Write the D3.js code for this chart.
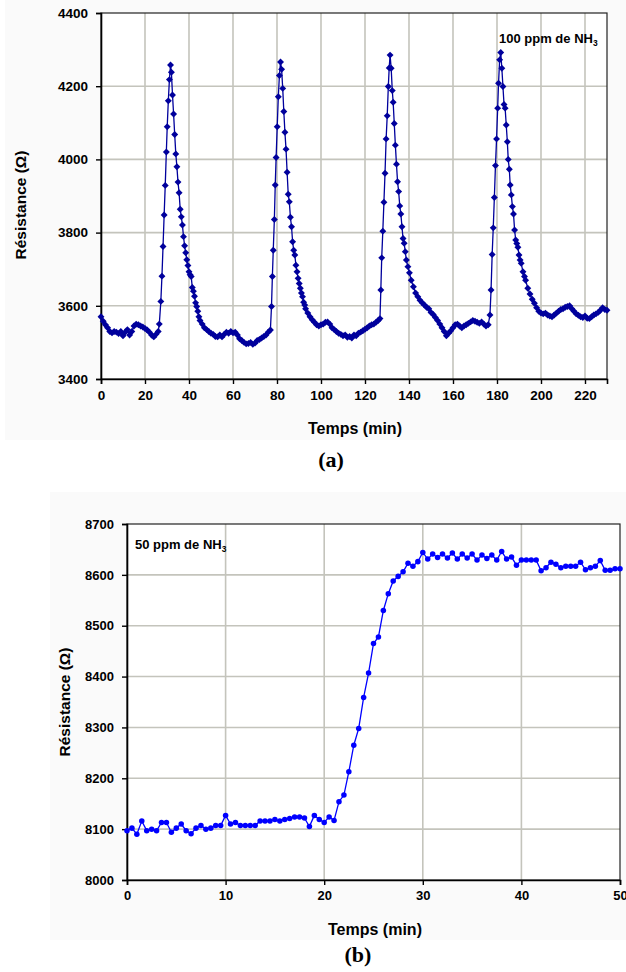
<!DOCTYPE html>
<html><head><meta charset="utf-8">
<script src="https://cdn.jsdelivr.net/npm/d3@7"></script>
<style>
body{margin:0;background:#fff;}
svg{display:block;font-family:"Liberation Sans",Arial,sans-serif;}
</style></head><body>
<svg id="c" width="626" height="972"></svg>
<script>
// ---- Data (a): 100 ppm NH3, [time (min), resistance (ohm)]
const seriesA = [
[0,3570],[1,3558],[2,3548],[3,3540],[4,3530],[5,3526],[6,3530],[7,3528],[8,3524],[9,3530],
[10,3518],[11,3528],[12,3535],[13,3520],[14,3530],[15,3545],[16,3550],[17,3548],[18,3545],[19,3542],
[20,3538],[21,3534],[22,3528],[23,3520],[24,3515],[25,3522],[26,3530],[26.5,3550],
[27.2,3612],[27.7,3681],[28.2,3762],[28.7,3848],[29.2,3929],[29.7,4020],[30.1,4089],[30.6,4160],
[31.1,4218],[31.6,4258],[32.0,4238],[32.5,4176],[33.0,4124],[33.5,4068],[34.0,4015],[34.5,3980],
[35.0,3938],[35.5,3909],[36.0,3864],[36.5,3843],[37.0,3821],[37.5,3789],[38.0,3764],[38.5,3745],
[39.0,3726],[39.5,3710],[40.0,3693],[40.5,3685],[41.0,3680],[41.5,3650],[42.0,3640],[42.5,3626],
[43.0,3608],[43.5,3598],[44.0,3585],[44.5,3570],[45,3560],[46,3550],[47,3540],[48,3535],[49,3530],
[50,3525],[51,3522],[52,3516],[53,3515],[54,3520],[55,3515],[56,3522],[57,3528],[58,3525],[59,3530],
[60,3526],[61,3528],[62,3520],[63,3510],[64,3505],[65,3500],[66,3496],[67,3497],[68,3500],[69,3495],
[70,3498],[71,3505],[72,3508],[73,3512],[74,3516],[75,3520],[76,3528],[77,3534],
[77.5,3598],[77.9,3680],[78.3,3752],[78.8,3836],[79.2,3930],[79.6,4005],[80.1,4089],[80.6,4171],
[81.1,4229],[81.6,4266],[82.1,4246],[82.6,4194],[83.1,4131],[83.6,4074],[84.1,4028],[84.6,3965],
[85.1,3905],[85.6,3884],[86.1,3842],[86.6,3816],[87.1,3775],[87.6,3752],[88.1,3739],[88.6,3711],
[89.1,3693],[89.6,3675],[90.1,3661],[90.6,3648],[91.1,3635],[91.6,3625],[92.1,3610],[92.6,3602],
[93,3592],[94,3580],[95,3570],[96,3562],[97,3555],[98,3548],[99,3545],[100,3548],[101,3550],
[102,3555],[103,3556],[104,3550],[105,3540],[106,3535],[107,3530],[108,3525],[109,3522],[110,3518],
[111,3520],[112,3514],[113,3516],[114,3512],[115,3520],[116,3518],[117,3525],[118,3528],[119,3532],
[120,3536],[121,3540],[122,3545],[123,3548],[124,3550],[125,3555],[126,3560],[126.8,3565],
[127.2,3643],[127.6,3731],[128.1,3804],[128.6,3883],[129.1,3962],[129.6,4056],[130.1,4119],[130.6,4199],
[131.0,4250],[131.4,4285],[131.9,4249],[132.4,4188],[132.8,4156],[133.3,4098],[133.8,4039],[134.3,3987],
[134.8,3939],[135.3,3912],[135.8,3873],[136.3,3851],[136.8,3816],[137.3,3784],[137.8,3771],[138.3,3748],
[138.8,3725],[139.5,3707],[140.2,3690],[141,3670],[142,3652],[143,3635],[144,3625],[145,3615],
[146,3608],[147,3602],[148,3596],[149,3592],[150,3582],[151,3576],[152,3568],[153,3560],[154,3550],
[155,3540],[156,3530],[157,3518],[158,3525],[159,3532],[160,3540],[161,3548],[162,3550],[163,3545],
[164,3540],[165,3545],[166,3548],[167,3552],[168,3556],[169,3560],[170,3558],[171,3555],[172,3552],
[173,3556],[174,3550],[175,3545],[176,3548],[176.8,3575],
[177.3,3643],[177.8,3740],[178.3,3813],[178.8,3896],[179.3,3983],[179.8,4056],[180.3,4140],[180.7,4208],
[181.2,4272],[181.7,4292],[182.2,4249],[182.7,4199],[183.2,4150],[183.7,4140],[184.2,4094],[184.7,4048],
[185.1,4000],[185.6,3973],[186.0,3930],[186.5,3903],[187.0,3871],[187.5,3851],[188.0,3807],[188.5,3780],
[189.0,3770],[189.5,3760],[190.0,3739],[190.5,3725],[191,3716],[191.8,3693],[192.5,3680],[193,3670],
[194,3648],[195,3632],[196,3618],[197,3607],[198,3595],[199,3585],[200,3580],[201,3578],[202,3580],
[203,3575],[204,3572],[205,3570],[206,3575],[207,3580],[208,3585],[209,3590],[210,3592],[211,3596],
[212,3598],[213,3600],[214,3592],[215,3585],[216,3578],[217,3574],[218,3570],[219,3568],[220,3572],
[221,3566],[222,3565],[223,3570],[224,3575],[225,3578],[226,3582],[227,3588],[228,3595],[229,3590],[230,3588]
];
const xTicksA = [0,20,40,60,80,100,120,140,160,180,200,220];
const yTicksA = [3400,3600,3800,4000,4200,4400];

// ---- Data (b): 50 ppm NH3, [time (min), resistance (ohm)]
const seriesB = [
[0,8097],[0.5,8102],[1,8090],[1.5,8116],[2,8097],[2.5,8100],[3,8097],[3.5,8113],[4,8113],[4.5,8094],
[5,8102],[5.5,8110],[6,8097],[6.5,8091],[7,8102],[7.5,8107],[8,8100],[8.5,8102],[9,8107],[9.5,8107],
[10,8127],[10.5,8110],[11,8113],[11.5,8107],[12,8107],[12.5,8107],[13,8107],[13.5,8116],[14,8116],[14.5,8116],
[15,8119],[15.5,8116],[16,8119],[16.5,8121],[17,8124],[17.5,8124],[18,8122],[18.5,8105],[19,8127],[19.5,8119],
[20,8113],[20.5,8124],[21,8117],[21.5,8154],[22,8167],[22.5,8213],[23,8265],[23.5,8298],[24,8359],[24.5,8407],
[25,8465],[25.5,8478],[26,8530],[26.5,8563],[27,8588],[27.5,8597],[28,8606],[28.5,8623],[29,8617],[29.5,8626],
[30,8644],[30.5,8631],[31,8641],[31.5,8634],[32,8641],[32.5,8633],[33,8643],[33.5,8631],[34,8641],[34.5,8633],
[35,8641],[35.5,8629],[36,8639],[36.5,8632],[37,8639],[37.5,8629],[38,8646],[38.5,8631],[39,8635],[39.5,8619],
[40,8629],[40.5,8629],[41,8629],[41.5,8629],[42,8608],[42.5,8614],[43,8625],[43.5,8621],[44,8614],[44.5,8617],
[45,8617],[45.5,8617],[46,8625],[46.5,8610],[47,8614],[47.5,8617],[48,8628],[48.5,8609],[49,8609],[49.5,8612],[50,8612]
];
const xTicksB = [0,10,20,30,40,50];
const yTicksB = [8000,8100,8200,8300,8400,8500,8600,8700];

const svg = d3.select("#c");

function panel(cfg){
  const g = svg.append("g");
  g.append("rect").attr("x",cfg.bg[0]).attr("y",cfg.bg[1]).attr("width",cfg.bg[2]).attr("height",cfg.bg[3]).attr("fill","#fafafa");
  const x = d3.scaleLinear().domain(cfg.xd).range([cfg.l, cfg.r]);
  const y = d3.scaleLinear().domain(cfg.yd).range([cfg.b, cfg.t]);
  g.append("rect").attr("x",cfg.l).attr("y",cfg.t).attr("width",cfg.r-cfg.l).attr("height",cfg.b-cfg.t).attr("fill","#fff");
  g.append("g").selectAll("line").data(cfg.xt.filter(v=>v>cfg.xd[0]&&v<cfg.xd[1])).join("line")
    .attr("x1",d=>x(d)).attr("x2",d=>x(d)).attr("y1",cfg.t).attr("y2",cfg.b)
    .attr("stroke","#c4c4bc").attr("stroke-width",1.6);
  g.append("g").selectAll("line").data(cfg.yt.filter(v=>v>cfg.yd[0]&&v<cfg.yd[1])).join("line")
    .attr("y1",d=>y(d)).attr("y2",d=>y(d)).attr("x1",cfg.l).attr("x2",cfg.r)
    .attr("stroke","#c4c4bc").attr("stroke-width",1.6);
  g.append("rect").attr("x",cfg.l).attr("y",cfg.t).attr("width",cfg.r-cfg.l).attr("height",cfg.b-cfg.t)
    .attr("fill","none").attr("stroke","#222").attr("stroke-width",1.2);
  const ax = g.append("g").attr("transform",`translate(0,${cfg.b})`)
    .call(d3.axisBottom(x).tickValues(cfg.xt).tickSize(5).tickPadding(6).tickFormat(d3.format("d")));
  const ay = g.append("g").attr("transform",`translate(${cfg.l},0)`)
    .call(d3.axisLeft(y).tickValues(cfg.yt).tickSize(5).tickPadding(8).tickFormat(d3.format("d")));
  [ax,ay].forEach(a=>{
    a.select(".domain").attr("stroke","#000").attr("stroke-width",1.6);
    a.selectAll(".tick line").attr("stroke","#000").attr("stroke-width",1.4);
    a.selectAll("text").attr("font-size",cfg.tickFs).attr("font-weight","bold").attr("fill","#000")
      .attr("font-family","'Liberation Sans',Arial,sans-serif");
  });
  const line = d3.line().x(d=>x(d[0])).y(d=>y(d[1]));
  g.append("path").datum(cfg.data).attr("d",line).attr("fill","none")
    .attr("stroke",cfg.color).attr("stroke-width",1.3);
  const sym = cfg.diamond ? d3.symbol(d3.symbolSquare, 24)() : d3.symbol(d3.symbolCircle, 24)();
  g.append("g").selectAll("path").data(cfg.data).join("path")
    .attr("d",sym)
    .attr("transform",d=>`translate(${x(d[0])},${y(d[1])})${cfg.diamond?" rotate(45)":""}`)
    .attr("fill",cfg.color);
  g.append("text").attr("x",cfg.xtPos[0]).attr("y",cfg.xtPos[1]).attr("text-anchor","middle")
    .attr("font-size",16).attr("font-weight","bold").text("Temps (min)");
  g.append("text").attr("transform",`translate(${cfg.ytPos[0]},${cfg.ytPos[1]}) rotate(-90)`)
    .attr("text-anchor","middle").attr("font-size",15.5).attr("font-weight","bold").text("Résistance (Ω)");
  const an = g.append("text").attr("x",cfg.anPos[0]).attr("y",cfg.anPos[1])
    .attr("font-size",cfg.anFs).attr("font-weight","bold");
  an.append("tspan").text(cfg.annot);
  an.append("tspan").attr("font-size",cfg.anFs*0.65).attr("dy",3).text("3");
  g.append("text").attr("x",cfg.capPos[0]).attr("y",cfg.capPos[1]).attr("text-anchor","middle")
    .attr("font-family","'Liberation Serif','Times New Roman',serif").attr("font-weight","bold")
    .attr("font-size",22).text(cfg.caption);
}

panel({data:seriesA, xd:[0,230], yd:[3400,4400], l:101, r:607, t:13, b:379,
  xt:xTicksA, yt:yTicksA, color:"#00009c", diamond:true, tickFs:13.5,
  bg:[5,0,621,440], xtPos:[355,434], ytPos:[26,205], anPos:[499,43], anFs:13,
  annot:"100 ppm de NH", capPos:[331,467], caption:"(a)"});

panel({data:seriesB, xd:[0,50], yd:[8000,8700], l:127, r:620, t:524, b:880,
  xt:xTicksB, yt:yTicksB, color:"#0000ff", diamond:false, tickFs:13,
  bg:[50,492,576,448], xtPos:[375,935], ytPos:[70,702], anPos:[135,549], anFs:13,
  annot:"50 ppm de NH", capPos:[358,962], caption:"(b)"});
</script>
</body></html>
